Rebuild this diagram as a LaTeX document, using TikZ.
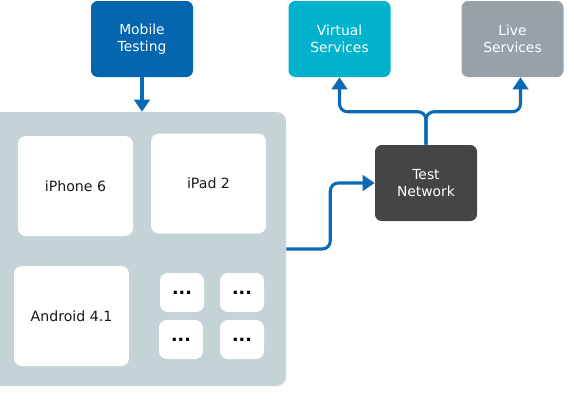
\documentclass[tikz,border=0pt]{standalone}
\usepackage{fontspec}
\setmainfont{DejaVu Sans}
\usetikzlibrary{arrows.meta}
\definecolor{mobileblue}{HTML}{0565AF}
\definecolor{virtualcyan}{HTML}{00B2CB}
\definecolor{livegrey}{HTML}{98A1A9}
\definecolor{netgrey}{HTML}{454545}
\definecolor{rackgrey}{HTML}{C3D3D6}
\definecolor{linkblue}{HTML}{0B6AB5}
\tikzset{
	box/.style={rounded corners=5pt, inner sep=0pt, align=center, text=white,
		font=\fontsize{10.4}{13}\selectfont, minimum width=76.5pt, minimum height=57pt},
	device/.style={rounded corners=6pt, fill=white, inner sep=0pt, align=center, text=black!90,
		font=\fontsize{10.6}{13}\selectfont, minimum width=86.25pt, minimum height=75pt},
	spare/.style={device, minimum width=33pt, minimum height=29.25pt, text=black,
		font=\fontsize{13}{14}\selectfont\bfseries},
	link/.style={draw=linkblue, line width=2.3pt, rounded corners=6pt,
		-{Triangle[width=11.5pt,length=9pt]}},
}
\begin{document}
\begin{tikzpicture}[x=0.75pt,y=-0.75pt]
		%%%%% START %%%%%
		\useasboundingbox (0, 0) rectangle (574, 405);
		
		\node[box, fill=mobileblue] (mobile) at (142, 39) {Mobile\\Testing};
		\node[box, fill=virtualcyan] (virtual) at (339.5, 39) {Virtual\\Services};
		\node[box, fill=livegrey] (live) at (512.5, 39) {Live\\Services};
		\node[box, fill=netgrey] (net) at (426, 183) {Test\\Network};
		
		\node[fill=rackgrey, rounded corners=7pt, minimum width=220.5pt, minimum height=205.5pt] (rack) at (139, 249) {};
		
		\node[device] (iphone) at (75.5, 186) {iPhone 6};
		\node[device] (ipad) at (208.5, 183.5) {iPad 2};
		\node[device] (android) at (71.5, 316) {Android 4.1};
		
		\node[spare] (spare1) at (182, 292.5) {...};
		\node[spare] (spare2) at (242, 292.5) {...};
		\node[spare] (spare3) at (181, 339.5) {...};
		\node[spare] (spare4) at (242, 339.5) {...};
		
		\draw[link] (mobile.south) -- (mobile.south |- rack.north);
		\draw[link] (rack.east) -- ++(44, 0) |- (net.west);
		\draw[link] (net.north) -- ++(0, -33) -| (virtual.south);
		\draw[link] (net.north) -- ++(0, -33) -| ([xshift=6pt]live.south);
		%%%%% END %%%%%
	\end{tikzpicture}
\end{document}
